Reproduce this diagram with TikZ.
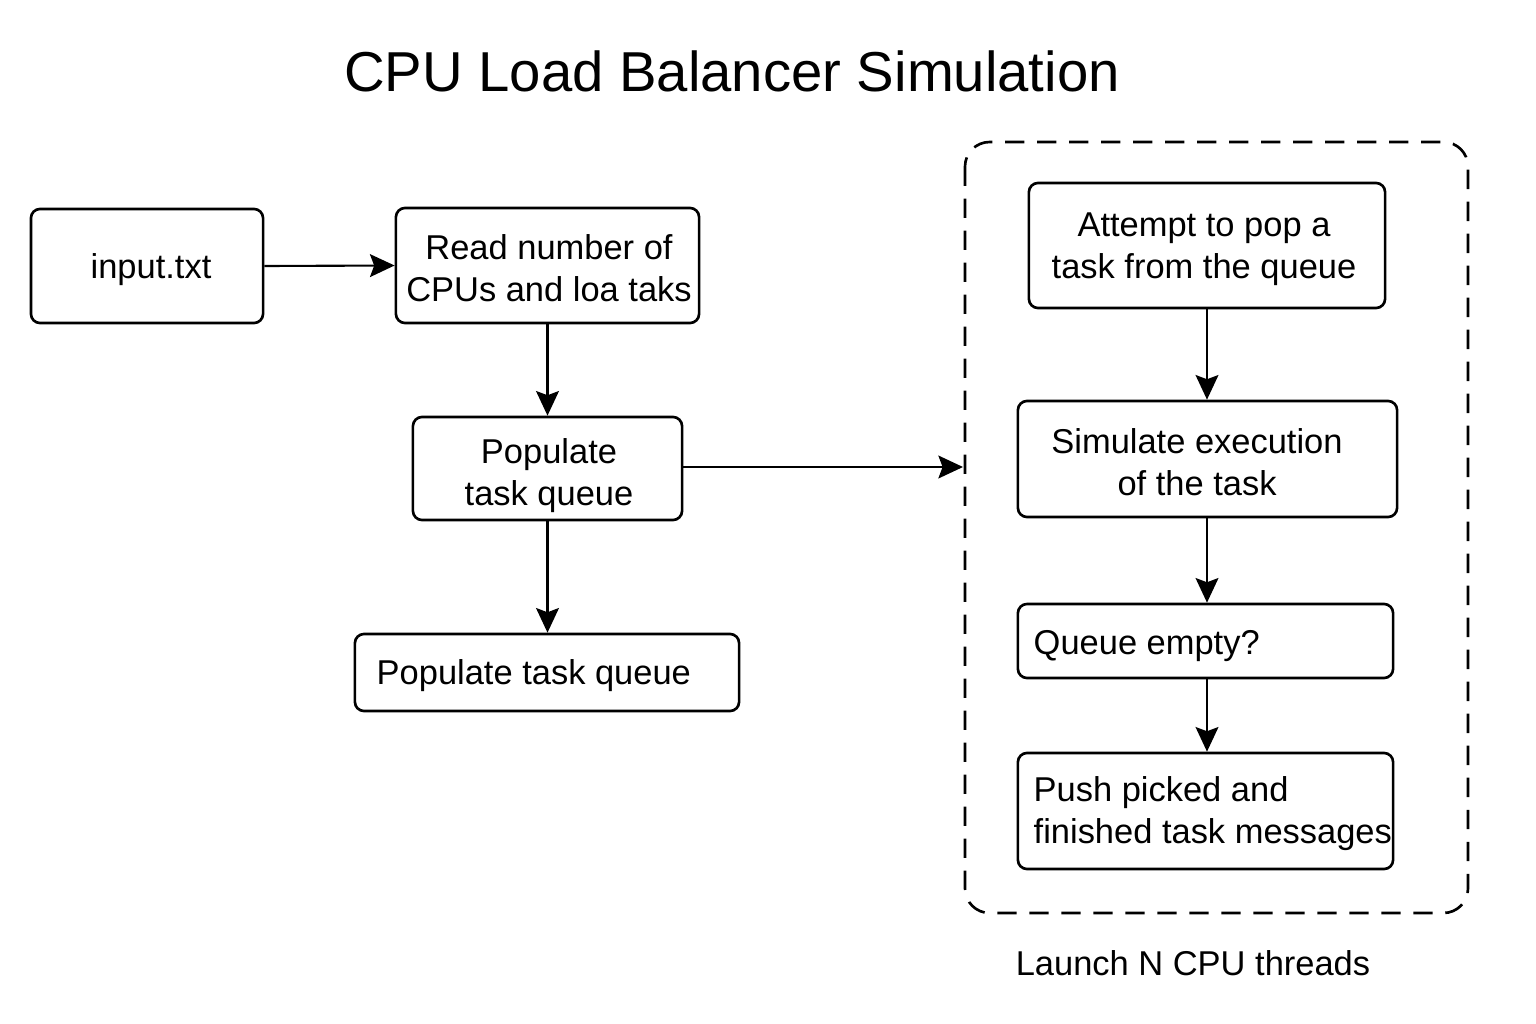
\documentclass[tikz,border=0pt]{standalone}
\usepackage{fontspec}
\setmainfont{Liberation Sans}
\usetikzlibrary{arrows.meta,positioning}
\tikzset{
  box/.style={draw, line width=0.75pt, rounded corners=2.6pt, inner sep=0pt},
  txt/.style={inner sep=0pt, font=\fontsize{9.8pt}{11.9pt}\selectfont, align=center},
  ltxt/.style={txt, align=left, anchor=west},
  arr/.style={-{Stealth[length=7pt,width=6.5pt,inset=1.2pt]}, line width=0.6pt},
  frame/.style={draw, line width=0.75pt, dash pattern=on 5.5pt off 3.6pt, rounded corners=7pt},
}
\begin{document}
\begin{tikzpicture}[x=0.01cm,y=-0.01cm]
\useasboundingbox (0,0) rectangle (1536,1024);
\node[font=\fontsize{16pt}{19pt}\selectfont] (title) at (732,71) {CPU Load Balancer Simulation};

\node[box, minimum width=2.32cm, minimum height=1.14cm] (input) at (147,266) {};
\node[txt] (inputt) at (151,270) {input.txt};
\node[box, minimum width=3.03cm, minimum height=1.15cm] (read) at (547.5,265.5) {};
\node[txt] (readt) at (549,268) {Read number of\\CPUs and loa taks};
\node[box, minimum width=2.69cm, minimum height=1.03cm] (pop1) at (547.5,468.5) {};
\node[txt] (pop1t) at (549,476) {Populate\\task queue};
\node[box, minimum width=3.84cm, minimum height=0.77cm] (pop2) at (547,672.5) {};
\node[ltxt] (pop2t) at (376,676) {Populate task queue};

\draw[frame] (965,142) rectangle (1468,913);
\coordinate (frameleft) at (963,467);

\node[box, minimum width=3.56cm, minimum height=1.25cm] (attempt) at (1207,245.5) {};
\node[txt] (attemptt) at (1204,249) {Attempt to pop a\\task from the queue};
\node[box, minimum width=3.79cm, minimum height=1.16cm] (sim) at (1207.5,459) {};
\node[txt] (simt) at (1197,462) {Simulate execution\\of the task};
\node[box, minimum width=3.75cm, minimum height=0.74cm] (queue) at (1205.5,641) {};
\node[ltxt] (queuet) at (1033,646) {Queue empty?};
\node[box, minimum width=3.75cm, minimum height=1.16cm] (push) at (1205.5,811) {};
\node[ltxt] (pusht) at (1033,814) {Push picked and\\finished task messages};

\node[txt] (launch) at (1193,963) {Launch N CPU threads};

\draw[arr] (input.east) -- (read.west);
\draw[arr] (read.south) -- (pop1.north);
\draw[arr] (pop1.south) -- (pop1.south |- pop2.north);
\draw[arr] (pop1.east |- frameleft) -- (frameleft);
\draw[arr] (attempt.south) -- (attempt.south |- sim.north);
\draw[arr] (attempt.south |- sim.south) -- (attempt.south |- queue.north);
\draw[arr] (attempt.south |- queue.south) -- (attempt.south |- push.north);
\end{tikzpicture}
\end{document}
